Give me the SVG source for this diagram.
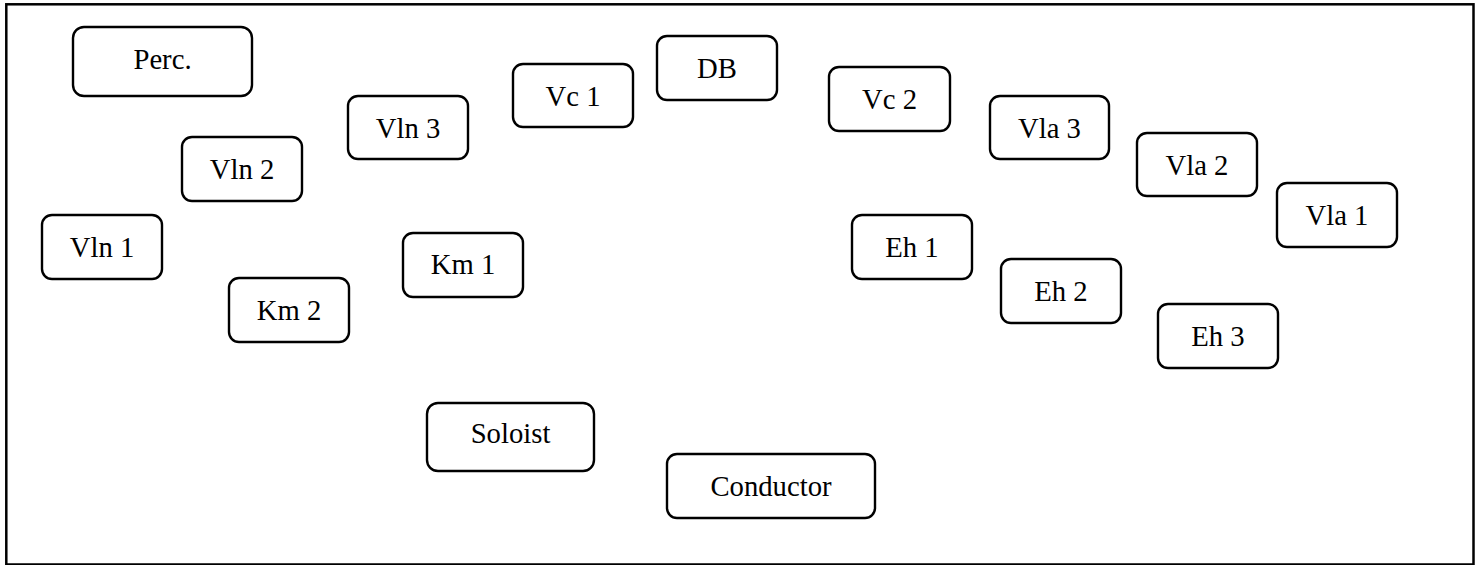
<svg xmlns="http://www.w3.org/2000/svg" width="1476" height="565" viewBox="0 0 1476 565">
<style>
.b{fill:#fff;stroke:#000;stroke-width:2.4}
.t{font-family:'Liberation Serif','DejaVu Serif',serif;font-size:28.7px;fill:#000;text-anchor:middle}
</style>
<rect x="0" y="0" width="1476" height="565" fill="#fff"/>
<rect x="6.3" y="4.3" width="1467.2" height="560.2" fill="none" stroke="#000" stroke-width="2.5"/>
<g id="connectors"></g>
<g id="perc"><rect class="b" x="73" y="27" width="179" height="69" rx="11"/><text class="t" x="162.5" y="69">Perc.</text></g>
<g id="vln2"><rect class="b" x="182" y="137" width="120" height="64" rx="10"/><text class="t" x="242" y="179">Vln 2</text></g>
<g id="vln1"><rect class="b" x="42" y="215" width="120" height="64" rx="10"/><text class="t" x="102" y="257">Vln 1</text></g>
<g id="km2"><rect class="b" x="229" y="278" width="120" height="64" rx="10"/><text class="t" x="289" y="320">Km 2</text></g>
<g id="vln3"><rect class="b" x="348" y="96" width="120" height="63" rx="10"/><text class="t" x="408" y="138">Vln 3</text></g>
<g id="vc1"><rect class="b" x="513" y="64" width="120" height="63" rx="10"/><text class="t" x="573" y="106">Vc 1</text></g>
<g id="km1"><rect class="b" x="403" y="233" width="120" height="64" rx="10"/><text class="t" x="463" y="274">Km 1</text></g>
<g id="db"><rect class="b" x="657" y="36" width="120" height="64" rx="10"/><text class="t" x="717" y="78">DB</text></g>
<g id="soloist"><rect class="b" x="427" y="403" width="167" height="68" rx="11"/><text class="t" x="510.5" y="443">Soloist</text></g>
<g id="conductor"><rect class="b" x="667" y="454" width="208" height="64" rx="10"/><text class="t" x="771" y="496">Conductor</text></g>
<g id="vc2"><rect class="b" x="829" y="67" width="121" height="64" rx="10"/><text class="t" x="889.5" y="109">Vc 2</text></g>
<g id="vla3"><rect class="b" x="990" y="96" width="119" height="63" rx="10"/><text class="t" x="1049.5" y="138">Vla 3</text></g>
<g id="vla2"><rect class="b" x="1137" y="133" width="120" height="63" rx="10"/><text class="t" x="1197" y="175">Vla 2</text></g>
<g id="vla1"><rect class="b" x="1277" y="183" width="120" height="64" rx="10"/><text class="t" x="1337" y="225">Vla 1</text></g>
<g id="eh1"><rect class="b" x="852" y="215" width="120" height="64" rx="10"/><text class="t" x="912" y="257">Eh 1</text></g>
<g id="eh2"><rect class="b" x="1001" y="259" width="120" height="64" rx="10"/><text class="t" x="1061" y="301">Eh 2</text></g>
<g id="eh3"><rect class="b" x="1158" y="304" width="120" height="64" rx="10"/><text class="t" x="1218" y="346">Eh 3</text></g>
</svg>
